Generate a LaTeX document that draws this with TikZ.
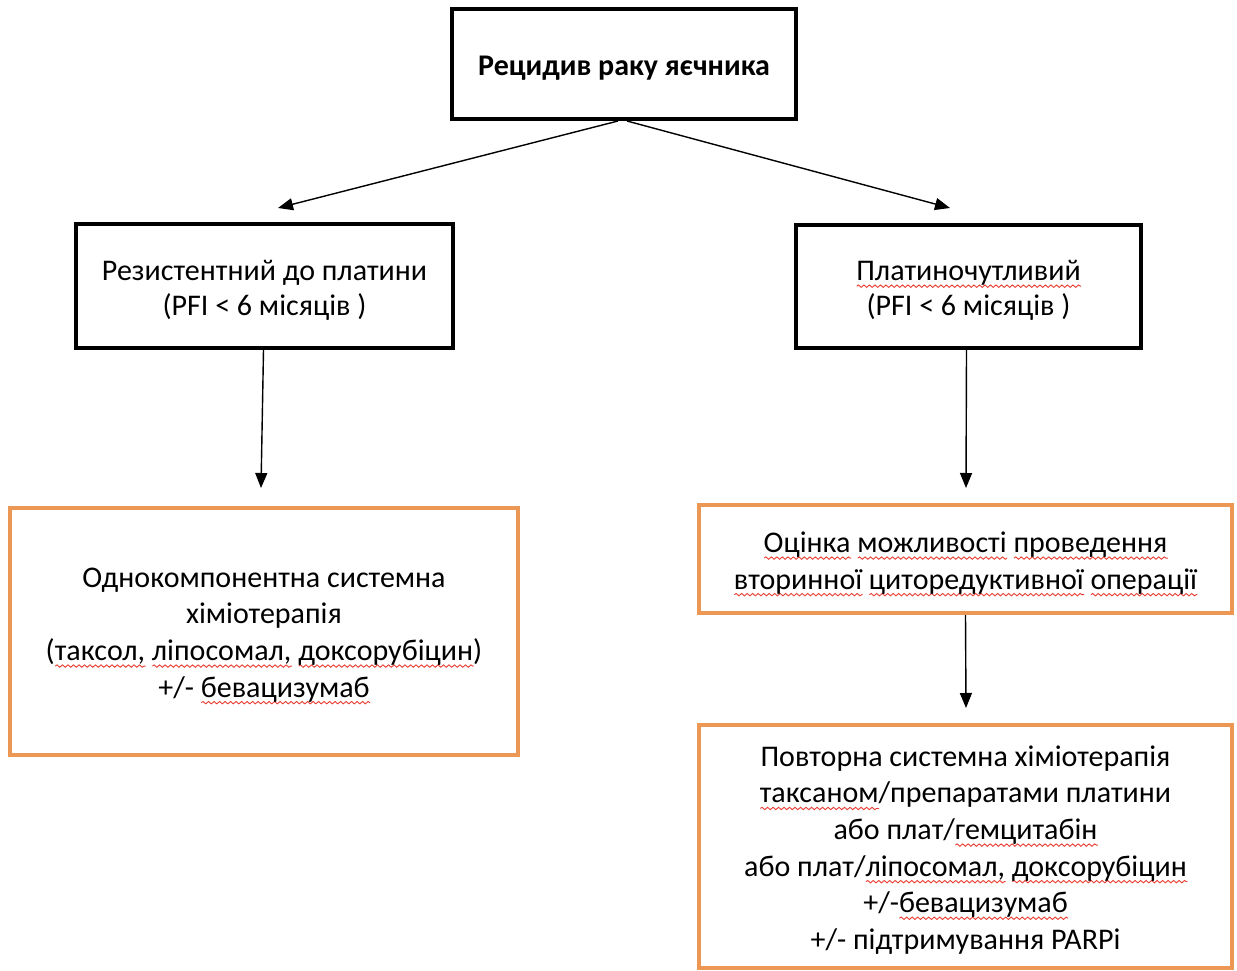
\documentclass[tikz,border=0pt]{standalone}
\usepackage{fontspec}
\setmainfont{Carlito}
\usetikzlibrary{arrows.meta,decorations.pathmorphing}
\definecolor{boxorange}{RGB}{236,152,84}
\definecolor{spellred}{RGB}{232,62,52}
\newsavebox\wvbox
\newcommand\wv[1]{\sbox\wvbox{#1}\makebox[0pt][l]{\raisebox{-5.5pt}[0pt][0pt]{\tikz[baseline=0pt]\draw[spellred,line width=0.9pt,decorate,decoration={snake,amplitude=1.2pt,segment length=5.5pt}] (0pt,0pt) -- (\the\wd\wvbox,0pt);}}\usebox\wvbox}
\tikzset{
  blackbox/.style={draw=black, line width=4pt, fill=white, inner sep=0pt},
  orangebox/.style={draw=boxorange, line width=4pt, fill=white, inner sep=0pt},
  txt/.style={align=center, inner sep=0pt, yshift=-4pt, font=\fontsize{30}{36.6}\selectfont},
  conn/.style={line width=1.4pt, -{Triangle[length=15pt,width=12pt]}}
}
\begin{document}
\begin{tikzpicture}[x=1pt,y=-1pt]
\useasboundingbox (0,0) rectangle (1237,971);
\fill[white] (0,0) rectangle (1237,971);
\node[blackbox, minimum width=344pt, minimum height=110pt] (top) at (624,64) {};
\node[txt, font=\fontsize{30}{35}\selectfont\bfseries] (topt) at (top.center) {Рецидив раку яєчника};
\node[blackbox, minimum width=377pt, minimum height=124pt] (res) at (264.5,286) {};
\node[txt, font=\fontsize{30}{35}\selectfont] (rest) at (res.center) {Резистентний до платини\\(PFI < 6 місяців )};
\node[blackbox, minimum width=345pt, minimum height=123pt] (sen) at (968.5,286.5) {};
\node[txt, font=\fontsize{30}{35}\selectfont] (sent) at (sen.center) {\wv{Платиночутливий}\\(PFI < 6 місяців )};
\node[orangebox, minimum width=508pt, minimum height=247pt] (mono) at (264,631) {};
\node[txt] (monot) at (mono.center) {Однокомпонентна системна\\хіміотерапія\\(\wv{таксол,} \wv{ліпосомал,} \wv{доксорубіцин})\\+/- \wv{бевацизумаб}};
\node[orangebox, minimum width=533pt, minimum height=108pt] (eval) at (965.5,559) {};
\node[txt] (evalt) at (eval.center) {\wv{Оцінка} \wv{можливості} \wv{проведення}\\\wv{вторинної} \wv{циторедуктивної} \wv{операції}};
\node[orangebox, minimum width=533pt, minimum height=243pt] (rep) at (965.5,846) {};
\node[txt] (rept) at (rep.center) {Повторна системна хіміотерапія\\\wv{таксаном}/препаратами платини\\або плат/\wv{гемцитабін}\\або плат/\wv{ліпосомал,} \wv{доксорубіцин}\\+/-\wv{бевацизумаб}\\+/- підтримування PARPi};
\coordinate (a1) at (278,208);
\coordinate (a2) at (950,208);
\coordinate (a3) at (261,488);
\coordinate (a4) at (966,488);
\coordinate (a5) at (966,708);
\draw[conn] ([xshift=-6pt]top.south) -- (a1);
\draw[conn] ([xshift=3pt]top.south) -- (a2);
\draw[conn] ([xshift=-1pt]res.south) -- (a3);
\draw[conn] ([xshift=-2pt]sen.south) -- (a4);
\draw[conn] (eval.south) -- (a5);
\end{tikzpicture}
\end{document}
